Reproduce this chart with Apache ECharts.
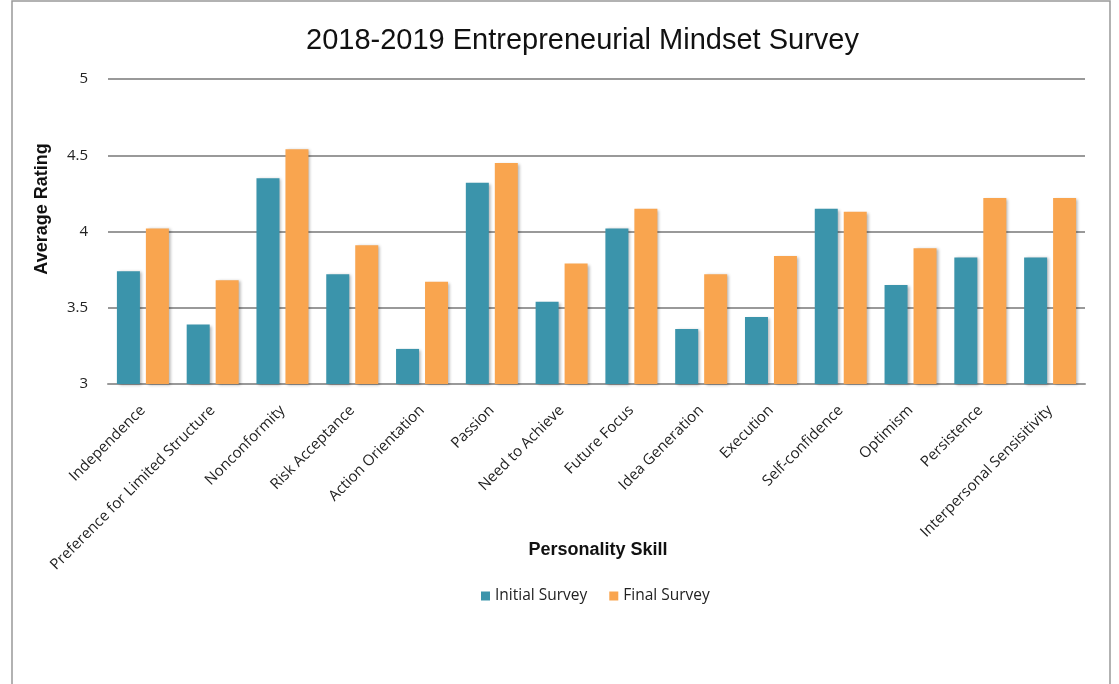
<!DOCTYPE html>
<html><head><meta charset="utf-8">
<script src="https://cdn.jsdelivr.net/npm/echarts@6/dist/echarts.min.js"></script>
<style>html,body{margin:0;padding:0;background:#fff}#c{width:1119px;height:684px}</style>
</head><body><div id="c"></div>
<script>
const categories = ["Independence","Preference for Limited Structure","Nonconformity","Risk Acceptance","Action Orientation","Passion","Need to Achieve","Future Focus","Idea Generation","Execution","Self-confidence","Optimism","Persistence","Interpersonal Sensisitivity"];
const initialSurvey = [3.74,3.39,4.35,3.72,3.23,4.32,3.54,4.02,3.36,3.44,4.15,3.65,3.83,3.83];
const finalSurvey = [4.02,3.68,4.54,3.91,3.67,4.45,3.79,4.15,3.72,3.84,4.13,3.89,4.22,4.22];
const yTicks = [3,3.5,4,4.5,5];

const chart = echarts.init(document.getElementById('c'));
const shadow = {shadowColor:'rgba(0,0,0,0.3)',shadowBlur:3,shadowOffsetX:2,shadowOffsetY:1};
chart.setOption({
  animation:false,
  backgroundColor:'#fff',
  graphic:[
    {type:'rect',shape:{x:12,y:1,width:1098,height:690},style:{fill:'none',stroke:'#999',lineWidth:1.5}},
    {type:'text',x:42,y:209,rotation:Math.PI/2,
      style:{text:'Average Rating',font:'bold 18px "Liberation Sans"',fill:'#111',textAlign:'center',textVerticalAlign:'middle'}},
    {type:'text',x:598,y:550,
      style:{text:'Personality Skill',font:'bold 18px "Liberation Sans"',fill:'#111',textAlign:'center',textVerticalAlign:'middle'}}
  ],
  title:{text:'2018-2019 Entrepreneurial Mindset Survey',left:301,top:21,
    textStyle:{fontFamily:'Liberation Sans',fontSize:29,fontWeight:'normal',color:'#111'}},
  legend:{top:583,left:476,itemWidth:9,itemHeight:9,itemGap:22,icon:'rect',
    textStyle:{fontFamily:'Open Sans',fontSize:15.5,color:'#222'},
    data:['Initial Survey','Final Survey']},
  grid:{left:108,right:34,top:79,bottom:300},
  xAxis:{type:'category',data:categories,
    axisTick:{show:false},
    axisLine:{lineStyle:{color:'#999',width:2}},
    axisLabel:{rotate:45,interval:0,margin:24,fontFamily:'Open Sans',fontSize:15,color:'#222'}},
  yAxis:{type:'value',min:yTicks[0],max:yTicks[yTicks.length-1],interval:0.5,
    axisLine:{show:false},axisTick:{show:false},
    axisLabel:{margin:20,fontFamily:'Open Sans',fontSize:15,color:'#222',formatter:v=>String(v)},
    splitLine:{lineStyle:{color:'#999',width:2}}},
  series:[
    {name:'Initial Survey',type:'bar',data:initialSurvey,barWidth:23,barGap:'26%',
      itemStyle:Object.assign({color:'#3B94AB'},shadow)},
    {name:'Final Survey',type:'bar',data:finalSurvey,barWidth:23,
      itemStyle:Object.assign({color:'#F9A54F'},shadow)}
  ]
});
</script></body></html>
